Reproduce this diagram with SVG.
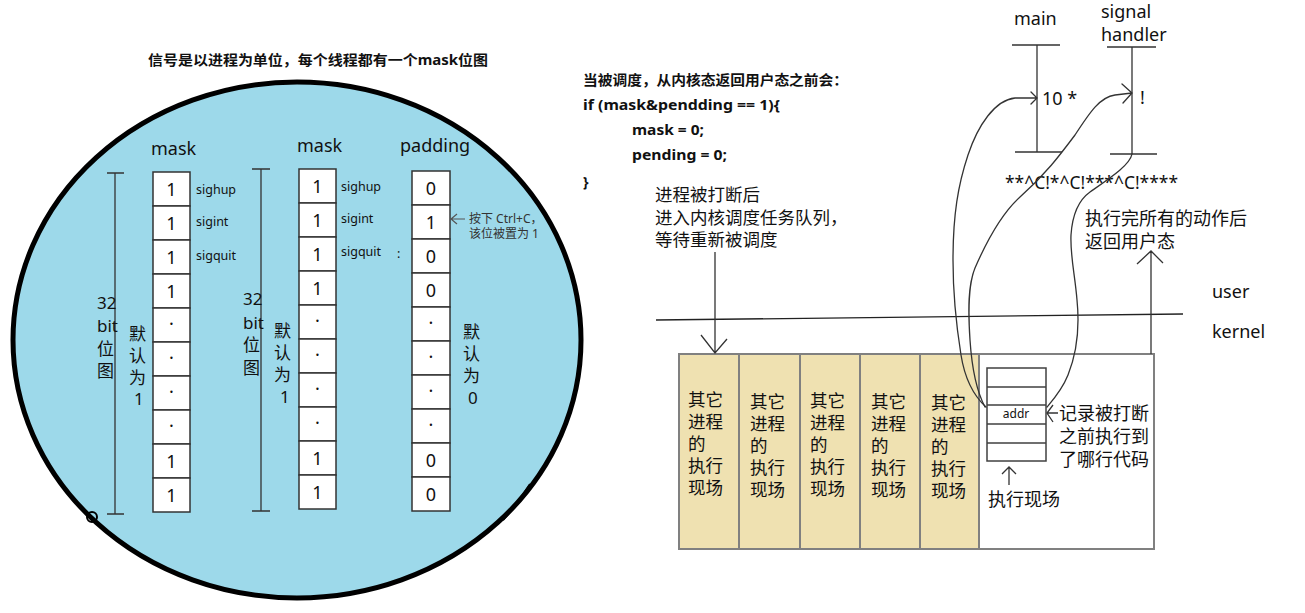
<svg xmlns="http://www.w3.org/2000/svg" width="1305" height="613" viewBox="0 0 1305 613">
<style>
text{font-family:"Noto Sans","Noto Sans CJK SC",sans-serif;fill:#111}
.b{font-weight:bold;font-size:14px}
.lbl{font-size:18px}
.sig{font-size:12.5px}
.num{font-size:18px;text-anchor:middle}
.cj{font-size:18px}
.vt{font-size:17px}
.col{font-size:17.5px}
.sm{font-size:12px;fill:#333}
.cell{fill:#fff;stroke:#333;stroke-width:1.5}
.rng{stroke:#333;stroke-width:1.3;fill:none}
.ln{stroke:#333;stroke-width:1.3;fill:none}
.box{stroke:#808080;stroke-width:2}
.crv{stroke:#333;stroke-width:1.3;fill:none;stroke-linejoin:round;stroke-linecap:round}
</style>

<g id="left-panel">
  <ellipse cx="297" cy="340" rx="284" ry="258" fill="#9dd9ea" stroke="#000" stroke-width="5"/>
  <circle cx="92" cy="517" r="5" fill="none" stroke="#000" stroke-width="2"/>
  <path d="M503,520 C512,510 521,498 530,484" fill="none" stroke="#000" stroke-width="2"/>
  <text class="b" x="148" y="65" textLength="340" lengthAdjust="spacingAndGlyphs">信号是以进程为单位，每个线程都有一个mask位图</text>
</g>

<g id="mask1">
  <text class="lbl" x="151" y="155">mask</text>
  <path class="rng" d="M115,173 V514 M107,173 H124 M107,514 H124"/>
  <rect class="cell" x="153" y="172" width="37" height="34"/>
  <rect class="cell" x="153" y="206" width="37" height="34"/>
  <rect class="cell" x="153" y="240" width="37" height="34"/>
  <rect class="cell" x="153" y="274" width="37" height="34"/>
  <rect class="cell" x="153" y="308" width="37" height="34"/>
  <rect class="cell" x="153" y="342" width="37" height="34"/>
  <rect class="cell" x="153" y="376" width="37" height="34"/>
  <rect class="cell" x="153" y="410" width="37" height="34"/>
  <rect class="cell" x="153" y="444" width="37" height="34"/>
  <rect class="cell" x="153" y="478" width="37" height="34"/>
  <text class="num" x="171.5" y="195.5">1</text>
  <text class="num" x="171.5" y="229.5">1</text>
  <text class="num" x="171.5" y="263.5">1</text>
  <text class="num" x="171.5" y="297.5">1</text>
  <text class="num" x="171.5" y="330">·</text>
  <text class="num" x="171.5" y="364">·</text>
  <text class="num" x="171.5" y="398">·</text>
  <text class="num" x="171.5" y="432">·</text>
  <text class="num" x="171.5" y="467.5">1</text>
  <text class="num" x="171.5" y="501.5">1</text>
  <text class="sig" x="196" y="194">sighup</text>
  <text class="sig" x="196" y="226">sigint</text>
  <text class="sig" x="196" y="260">sigquit</text>
  <text class="vt" x="97" y="309">32</text>
  <text class="vt" x="97" y="332">bit</text>
  <text class="vt" x="97" y="355">位</text>
  <text class="vt" x="97" y="377">图</text>
  <text class="vt" x="129" y="340">默</text>
  <text class="vt" x="129" y="362">认</text>
  <text class="vt" x="129" y="384">为</text>
  <text class="vt" x="134" y="405">1</text>
</g>

<g id="mask2">
  <text class="lbl" x="297" y="152">mask</text>
  <path class="rng" d="M261,169 V511 M252,169 H270 M252,511 H270"/>
  <rect class="cell" x="299" y="169" width="37" height="34"/>
  <rect class="cell" x="299" y="203" width="37" height="34"/>
  <rect class="cell" x="299" y="237" width="37" height="34"/>
  <rect class="cell" x="299" y="271" width="37" height="34"/>
  <rect class="cell" x="299" y="305" width="37" height="34"/>
  <rect class="cell" x="299" y="339" width="37" height="34"/>
  <rect class="cell" x="299" y="373" width="37" height="34"/>
  <rect class="cell" x="299" y="407" width="37" height="34"/>
  <rect class="cell" x="299" y="441" width="37" height="34"/>
  <rect class="cell" x="299" y="475" width="37" height="34"/>
  <text class="num" x="317.5" y="192.5">1</text>
  <text class="num" x="317.5" y="226.5">1</text>
  <text class="num" x="317.5" y="260.5">1</text>
  <text class="num" x="317.5" y="294.5">1</text>
  <text class="num" x="317.5" y="327">·</text>
  <text class="num" x="317.5" y="361">·</text>
  <text class="num" x="317.5" y="395">·</text>
  <text class="num" x="317.5" y="429">·</text>
  <text class="num" x="317.5" y="464.5">1</text>
  <text class="num" x="317.5" y="498.5">1</text>
  <text class="sig" x="341" y="191">sighup</text>
  <text class="sig" x="341" y="223">sigint</text>
  <text class="sig" x="341" y="256">sigquit</text>
  <text class="sig" x="397" y="258">:</text>
  <text class="vt" x="243" y="305">32</text>
  <text class="vt" x="243" y="329">bit</text>
  <text class="vt" x="243" y="351">位</text>
  <text class="vt" x="243" y="374">图</text>
  <text class="vt" x="274" y="337">默</text>
  <text class="vt" x="274" y="359">认</text>
  <text class="vt" x="274" y="381">为</text>
  <text class="vt" x="280" y="403">1</text>
</g>

<g id="padding">
  <text class="lbl" x="400" y="152">padding</text>
  <rect class="cell" x="412" y="171" width="38" height="34"/>
  <rect class="cell" x="412" y="205" width="38" height="34"/>
  <rect class="cell" x="412" y="239" width="38" height="34"/>
  <rect class="cell" x="412" y="273" width="38" height="34"/>
  <rect class="cell" x="412" y="307" width="38" height="34"/>
  <rect class="cell" x="412" y="341" width="38" height="34"/>
  <rect class="cell" x="412" y="375" width="38" height="34"/>
  <rect class="cell" x="412" y="409" width="38" height="34"/>
  <rect class="cell" x="412" y="443" width="38" height="34"/>
  <rect class="cell" x="412" y="477" width="38" height="34"/>
  <text class="num" x="431" y="194.5">0</text>
  <text class="num" x="431" y="228.5">1</text>
  <text class="num" x="431" y="262.5">0</text>
  <text class="num" x="431" y="296.5">0</text>
  <text class="num" x="431" y="329">·</text>
  <text class="num" x="431" y="363">·</text>
  <text class="num" x="431" y="397">·</text>
  <text class="num" x="431" y="431">·</text>
  <text class="num" x="431" y="466.5">0</text>
  <text class="num" x="431" y="500.5">0</text>
  <path d="M451,219 H465 M457,214 L451,219 L457,224" fill="none" stroke="#555" stroke-width="1.2"/>
  <text class="sm" x="469" y="223">按下 Ctrl+C，</text>
  <text class="sm" x="469" y="238">该位被置为 1</text>
  <text class="vt" x="463" y="338">默</text>
  <text class="vt" x="463" y="360">认</text>
  <text class="vt" x="463" y="382">为</text>
  <text class="vt" x="468" y="404">0</text>
</g>

<g id="code">
  <text class="b" x="583" y="85" textLength="265" lengthAdjust="spacingAndGlyphs">当被调度，从内核态返回用户态之前会：</text>
  <text class="b" x="583" y="110" textLength="197" lengthAdjust="spacingAndGlyphs">if (mask&amp;pendding == 1){</text>
  <text class="b" x="632" y="135" textLength="72" lengthAdjust="spacingAndGlyphs">mask = 0;</text>
  <text class="b" x="632" y="160" textLength="95" lengthAdjust="spacingAndGlyphs">pending = 0;</text>
  <text class="b" x="583" y="187">}</text>
</g>

<g id="main-timeline">
  <text class="lbl" x="1014" y="25">main</text>
  <path class="ln" d="M1012,45 H1060 M1037,45 V152 M1015,152 H1062"/>
  <text class="lbl" x="1042" y="105">10 *</text>
</g>

<g id="handler-timeline">
  <text class="lbl" x="1101" y="18">signal</text>
  <text class="lbl" x="1101" y="41">handler</text>
  <path class="ln" d="M1107,47 H1156 M1132,47 V154 M1110,154 H1157"/>
  <text class="lbl" x="1140" y="104">!</text>
</g>

<g id="keys">
  <text class="lbl" x="1005" y="189" textLength="173" lengthAdjust="spacingAndGlyphs">**^C!*^C!***^C!****</text>
</g>

<g id="note-interrupt">
  <text class="cj" x="655" y="201" style="font-size:17.5px">进程被打断后</text>
  <text class="cj" x="655" y="224" style="font-size:17.5px">进入内核调度任务队列，</text>
  <text class="cj" x="655" y="246" style="font-size:17.5px">等待重新被调度</text>
</g>

<g id="note-return">
  <text class="cj" x="1085" y="225">执行完所有的动作后</text>
  <text class="cj" x="1085" y="248">返回用户态</text>
</g>

<g id="modes">
  <text class="lbl" x="1212" y="298">user</text>
  <text class="lbl" x="1212" y="338">kernel</text>
  <path d="M656,320 L1183,314" stroke="#222" stroke-width="1.3"/>
</g>

<g id="kernel-queue">
  <rect x="679" y="354" width="300" height="195" fill="#efe1b1"/>
  <rect x="979" y="354" width="175" height="195" fill="#fff"/>
  <rect class="box" x="679" y="354" width="475" height="195" fill="none"/>
  <path class="box" d="M739,354 V549 M800,354 V549 M860,354 V549 M920,354 V549 M979,354 V549"/>
  <text class="col"><tspan x="688" y="406">其它</tspan><tspan x="688" y="428">进程</tspan><tspan x="688" y="450">的</tspan><tspan x="688" y="472">执行</tspan><tspan x="688" y="494">现场</tspan></text>
  <text class="col"><tspan x="750" y="408">其它</tspan><tspan x="750" y="430">进程</tspan><tspan x="750" y="452">的</tspan><tspan x="750" y="474">执行</tspan><tspan x="750" y="496">现场</tspan></text>
  <text class="col"><tspan x="810" y="407">其它</tspan><tspan x="810" y="429">进程</tspan><tspan x="810" y="451">的</tspan><tspan x="810" y="473">执行</tspan><tspan x="810" y="495">现场</tspan></text>
  <text class="col"><tspan x="871" y="408">其它</tspan><tspan x="871" y="430">进程</tspan><tspan x="871" y="452">的</tspan><tspan x="871" y="474">执行</tspan><tspan x="871" y="496">现场</tspan></text>
  <text class="col"><tspan x="931" y="409">其它</tspan><tspan x="931" y="431">进程</tspan><tspan x="931" y="453">的</tspan><tspan x="931" y="475">执行</tspan><tspan x="931" y="497">现场</tspan></text>
</g>

<g id="context-stack">
  <rect x="987" y="368" width="59" height="93" fill="#fff" stroke="#404040" stroke-width="1.5"/>
  <path d="M987,387 H1046 M987,405 H1046 M987,424 H1046 M987,443 H1046" stroke="#404040" stroke-width="1.5"/>
  <text x="1016" y="418" style="font-size:12px;text-anchor:middle">addr</text>
  <text class="cj" x="1059" y="420">记录被打断</text>
  <text class="cj" x="1059" y="443">之前执行到</text>
  <text class="cj" x="1059" y="466">了哪行代码</text>
  <text class="cj" x="988" y="506">执行现场</text>
</g>

<g id="connectors">
  <path class="ln" d="M715,252 V353 M701,335 L715,353 L727,339"/>
  <path class="ln" d="M1151,354 V251 M1137,264 L1151,251 L1163,263"/>
  <path class="ln" d="M1009,485 V467 M1002,474 L1009,467 L1016,474"/>
  <path class="ln" d="M1058,413 H1047 M1053,405 L1047,413 L1053,422"/>
  <path class="crv" d="M986,407 C975,397 965,380 961,355 C957,330 953,300 953,260 C953,215 958,185 968,155 C978,125 995,100 1015,98 L1037,98 M1031,92 L1037,98 L1031,104"/>
  <path class="crv" d="M985,407 C977,392 972,370 970,340 C968,310 968,285 975,268 C985,245 1000,215 1020,197 C1045,175 1060,155 1075,135 C1090,112 1100,97 1115,95 L1132,93 M1122,84 L1132,93 L1123,103"/>
  <path class="crv" d="M1132,154 C1130,165 1110,178 1090,192 C1076,202 1072,220 1071,235 C1070,255 1075,275 1077,300 C1080,330 1076,355 1068,375 C1062,390 1053,400 1047,407"/>
</g>
</svg>
